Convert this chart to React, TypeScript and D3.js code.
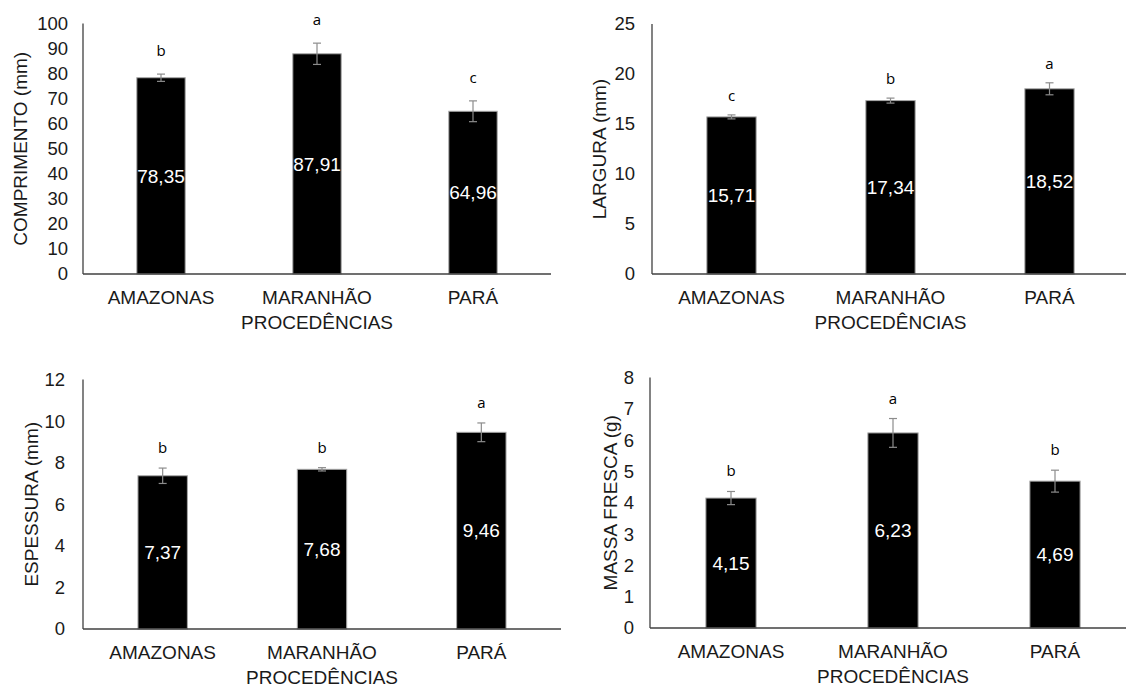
import { useEffect, useRef } from 'react'
import * as d3 from 'd3'

// categories and values
const categories = ['AMAZONAS', 'MARANHÃO', 'PARÁ']

const comprimento = [78.35, 87.91, 64.96]
const comprimentoErr = [1.45, 4.25, 4.15]
const comprimentoLetters = ['b', 'a', 'c']

const largura = [15.71, 17.34, 18.52]
const larguraErr = [0.2, 0.25, 0.6]
const larguraLetters = ['c', 'b', 'a']

const espessura = [7.37, 7.68, 9.46]
const espessuraErr = [0.37, 0.08, 0.45]
const espessuraLetters = ['b', 'b', 'a']

const massa = [4.15, 6.23, 4.69]
const massaErr = [0.21, 0.46, 0.35]
const massaLetters = ['b', 'a', 'b']

const xTitle = 'PROCEDÊNCIAS'

type Panel = {
  title: string
  values: number[]
  errors: number[]
  letters: string[]
  max: number
  step: number
  left: number
  right: number
  top: number
  bottom: number
  tickGap: number
  titleX: number
  letterGap: number
}

const panels: Panel[] = [
  { title: 'COMPRIMENTO (mm)', values: comprimento, errors: comprimentoErr, letters: comprimentoLetters, max: 100, step: 10, left: 83, right: 551, top: 23.5, bottom: 274, tickGap: 15, titleX: 20, letterGap: 18 },
  { title: 'LARGURA (mm)', values: largura, errors: larguraErr, letters: larguraLetters, max: 25, step: 5, left: 652, right: 1129, top: 24, bottom: 274, tickGap: 17, titleX: 599, letterGap: 14 },
  { title: 'ESPESSURA (mm)', values: espessura, errors: espessuraErr, letters: espessuraLetters, max: 12, step: 2, left: 83, right: 561, top: 379.5, bottom: 629, tickGap: 18, titleX: 31, letterGap: 15 },
  { title: 'MASSA FRESCA (g)', values: massa, errors: massaErr, letters: massaLetters, max: 8, step: 1, left: 650, right: 1136, top: 377.5, bottom: 628, tickGap: 16, titleX: 610, letterGap: 15 },
]

const FONT = '"Liberation Sans", Arial, sans-serif'
const TEXT = '#1a1a1a'
const fmt = (v: number) => v.toFixed(2).replace('.', ',')

export default function App() {
  const svgRef = useRef<SVGSVGElement>(null)

  useEffect(() => {
    if (!svgRef.current) return
    const svg = d3.select(svgRef.current)
    svg.selectAll('*').remove()

    panels.forEach(p => {
      const g = svg.append('g')

      const x = d3
        .scaleBand()
        .domain(categories)
        .range([p.left, p.right])
        .paddingInner(0.69)
        .paddingOuter(0.345)

      const y = d3.scaleLinear().domain([0, p.max]).range([p.bottom, p.top])

      // y tick labels (no tick marks)
      const ticks = d3.range(0, p.max + p.step / 2, p.step)
      g.selectAll('text.tick')
        .data(ticks)
        .enter()
        .append('text')
        .attr('class', 'tick')
        .attr('x', p.left - p.tickGap)
        .attr('y', d => y(d))
        .attr('dy', '0.35em')
        .attr('text-anchor', 'end')
        .attr('font-family', FONT)
        .attr('font-size', 18.5)
        .attr('fill', TEXT)
        .text(d => String(d))

      // bars
      g.selectAll('rect.bar')
        .data(p.values)
        .enter()
        .append('rect')
        .attr('class', 'bar')
        .attr('x', (_, i) => x(categories[i])!)
        .attr('y', d => y(d))
        .attr('width', x.bandwidth())
        .attr('height', d => y(0) - y(d))
        .attr('fill', '#000')
        .attr('stroke', '#a6a6a6')
        .attr('stroke-width', 1)

      // error bars, letters and value labels
      const cx = (i: number) => x(categories[i])! + x.bandwidth() / 2
      p.values.forEach((v, i) => {
        const e = p.errors[i]
        const eg = g.append('g').attr('stroke', '#8c8c8c').attr('stroke-width', 1.2)
        eg.append('line').attr('x1', cx(i)).attr('x2', cx(i)).attr('y1', y(v + e)).attr('y2', y(v - e))
        eg.append('line').attr('x1', cx(i) - 4).attr('x2', cx(i) + 4).attr('y1', y(v + e)).attr('y2', y(v + e))
        eg.append('line').attr('x1', cx(i) - 4).attr('x2', cx(i) + 4).attr('y1', y(v - e)).attr('y2', y(v - e))

        g.append('text')
          .attr('x', cx(i))
          .attr('y', y(v + e) - p.letterGap)
          .attr('text-anchor', 'middle')
          .attr('font-family', '"Open Sans", sans-serif')
          .attr('font-size', 15)
          .attr('fill', '#000')
          .text(p.letters[i])

        g.append('text')
          .attr('x', cx(i))
          .attr('y', (y(v) + y(0)) / 2)
          .attr('dy', '0.35em')
          .attr('text-anchor', 'middle')
          .attr('font-family', FONT)
          .attr('font-size', 19)
          .attr('fill', '#fff')
          .text(fmt(v))
      })

      // axis lines
      g.append('line')
        .attr('x1', p.left).attr('x2', p.left)
        .attr('y1', y(p.max)).attr('y2', y(0))
        .attr('stroke', '#404040').attr('stroke-width', 1.3)
      g.append('line')
        .attr('x1', p.left).attr('x2', p.right)
        .attr('y1', y(0)).attr('y2', y(0))
        .attr('stroke', '#404040').attr('stroke-width', 1.3)

      // category labels
      g.selectAll('text.cat')
        .data(categories)
        .enter()
        .append('text')
        .attr('class', 'cat')
        .attr('x', d => x(d)! + x.bandwidth() / 2)
        .attr('y', p.bottom + 23)
        .attr('dy', '0.35em')
        .attr('text-anchor', 'middle')
        .attr('font-family', FONT)
        .attr('font-size', 19)
        .attr('fill', TEXT)
        .text(d => d)

      // x axis title
      g.append('text')
        .attr('x', (p.left + p.right) / 2)
        .attr('y', p.bottom + 48)
        .attr('dy', '0.35em')
        .attr('text-anchor', 'middle')
        .attr('font-family', FONT)
        .attr('font-size', 19)
        .attr('fill', TEXT)
        .text(xTitle)

      // y axis title
      g.append('text')
        .attr('transform', `translate(${p.titleX},${(p.top + p.bottom) / 2}) rotate(-90)`)
        .attr('dy', '0.35em')
        .attr('text-anchor', 'middle')
        .attr('font-family', FONT)
        .attr('font-size', 19)
        .attr('fill', TEXT)
        .text(p.title)
    })
  }, [])

  return (
    <svg
      ref={svgRef}
      width={1126}
      height={687}
      style={{ position: 'absolute', left: 0, top: 0, background: '#fff' }}
    />
  )
}
